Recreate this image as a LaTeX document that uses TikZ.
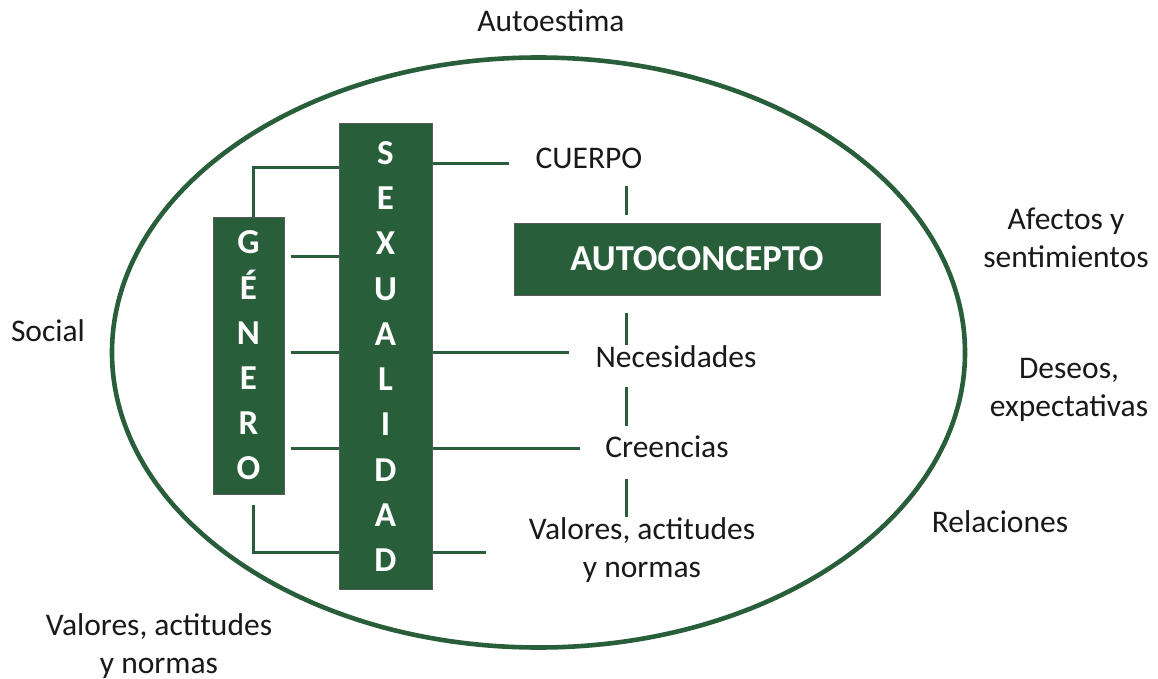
\documentclass[tikz,border=0pt]{standalone}
\usepackage{fontspec}
\setmainfont{Carlito}
\usetikzlibrary{shapes.geometric}
\definecolor{gr}{RGB}{40,94,58}
\begin{document}
\begin{tikzpicture}[x=1pt,y=-1pt,
  conn/.style={draw=gr, line width=3pt},
  greenbox/.style={draw=black!65, line width=1pt, fill=gr, text=white, inner sep=0pt, align=center},
  lbl/.style={inner sep=0pt, anchor=base, align=center, font=\fontsize{31.5}{38}\selectfont, text=black!90}
]
\useasboundingbox (0,0) rectangle (1158,679);
\fill[white] (0,0) rectangle (1158,679);

\node[draw=gr, line width=4.6pt, ellipse, minimum width=853pt, minimum height=590pt, inner sep=0pt] (oval) at (538.5,352.5) {};

\node[greenbox, minimum width=93pt, minimum height=465pt, font=\fontsize{35}{45.3}\bfseries\selectfont] (sex) at (385.5,356.5)
  {S\\E\\X\\U\\A\\L\\I\\D\\A\\D};
\node[greenbox, minimum width=71pt, minimum height=277pt, font=\fontsize{35}{45.2}\bfseries\selectfont] (gen) at (248.5,355.5)
  {G\\É\\N\\E\\R\\O};
\node[greenbox, minimum width=366pt, minimum height=72pt, font=\fontsize{36.5}{40}\bfseries\selectfont] (auto) at (697,259) {AUTOCONCEPTO};

\node[lbl] (autoest) at (551,32) {Autoestima};
\node[lbl] (cuerpo) at (589,168) {CUERPO};
\node[lbl] (nec) at (676,367) {Necesidades};
\node[lbl] (cre) at (667,457) {Creencias};
\node[lbl] (val) at (642,577) {Valores, actitudes\\y normas};
\node[lbl] (afe) at (1066,267) {Afectos y\\sentimientos};
\node[lbl] (des) at (1069,416) {Deseos,\\expectativas};
\node[lbl] (rel) at (1000,532) {Relaciones};
\node[lbl] (soc) at (48,341) {Social};
\node[lbl] (val2) at (159,673) {Valores, actitudes\\y normas};

% free ends
\coordinate (cL) at (509,164);
\coordinate (nL) at (569,352);
\coordinate (crL) at (580,448);
\coordinate (vL) at (486,552);
\coordinate (g1) at (253,168);
\coordinate (g2) at (253,552);
\coordinate (r1) at (339,256);

\draw[conn] (sex.east |- cL) -- (cL);
\draw[conn] (gen.north -| g1) -- (g1) -- (sex.west |- g1);
\draw[conn, shorten <=6pt] (gen.east |- r1) -- (sex.west |- r1);
\draw[conn, shorten <=6pt] (gen.east |- nL) -- (sex.west |- nL);
\draw[conn] (sex.east |- nL) -- (nL);
\draw[conn, shorten <=6pt] (gen.east |- crL) -- (sex.west |- crL);
\draw[conn] (sex.east |- crL) -- (crL);
\draw[conn, shorten <=10pt] (gen.south -| g2) -- (g2) -- (sex.west |- g2);
\draw[conn] (sex.east |- vL) -- (vL);

% vertical links
\coordinate (vx) at (626,0);
\draw[conn, shorten <=18pt, shorten >=8pt] (cuerpo.base -| vx) -- (auto.north -| vx);
\draw[conn, shorten <=17pt] (auto.south -| vx) -- (nec.north -| vx);
\draw[conn, shorten <=20pt, shorten >=9pt] (nec.base -| vx) -- (cre.north -| vx);
\draw[conn, shorten <=22pt] (cre.base -| vx) -- (val.north -| vx);
\end{tikzpicture}
\end{document}
